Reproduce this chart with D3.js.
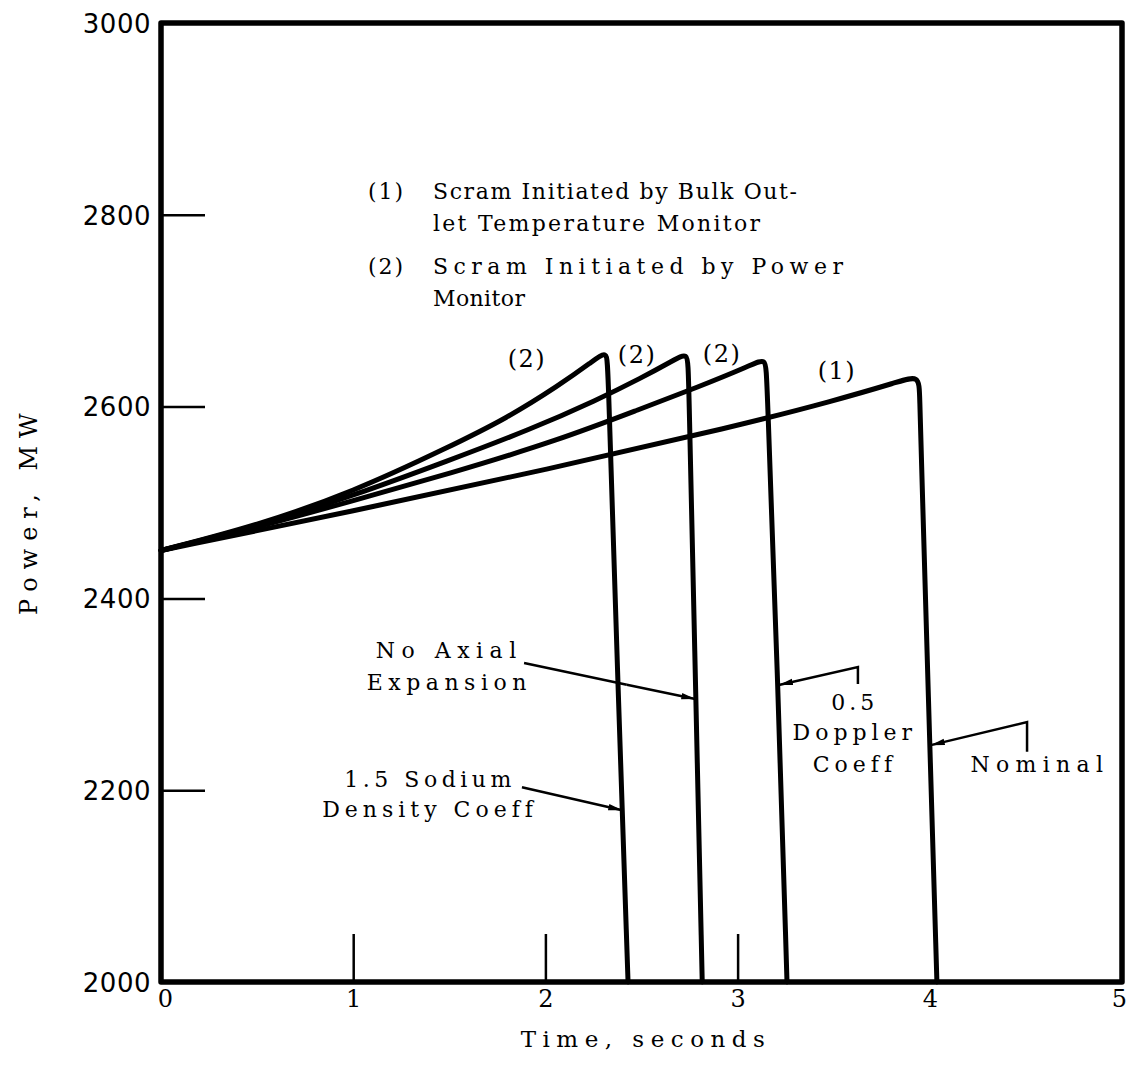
<!DOCTYPE html>
<html>
<head>
<meta charset="utf-8">
<script src="https://cdn.jsdelivr.net/npm/d3@7"></script>
<style>
  body { margin: 0; background: #fff; }
  svg { display: block; }
</style>
</head>
<body>
<svg id="chart" width="1128" height="1078"></svg>
<script>
// ---- data -------------------------------------------------------------
const timeTicks  = [0, 1, 2, 3, 4, 5];
const powerTicks = [2000, 2200, 2400, 2600, 2800, 3000];

// 1.5 x sodium density coefficient, scrammed by the power monitor
const sodiumTime  = [0, 0.5, 1.0, 1.5, 1.8, 2.07, 2.245, 2.322, 2.325, 2.374, 2.43];
const sodiumPower = [2450, 2476, 2511, 2558, 2588, 2622, 2647, 2659, 2640, 2330, 2000];

// no axial expansion, scrammed by the power monitor
const axialTime  = [0, 0.5, 1.0, 1.5, 1.92, 2.27, 2.5, 2.665, 2.742, 2.744, 2.783, 2.816];
const axialPower = [2450, 2475, 2507, 2544, 2576, 2607, 2630, 2648, 2657, 2638, 2294, 2000];

// 0.5 x Doppler coefficient, scrammed by the power monitor
const dopplerTime  = [0, 0.5, 1.0, 1.5, 2.07, 2.5, 2.79, 3.07, 3.148, 3.151, 3.21, 3.257];
const dopplerPower = [2450, 2474, 2502, 2530, 2565, 2598, 2620, 2643, 2651, 2633, 2310, 2000];

// nominal case, scrammed by the bulk outlet temperature monitor
const nominalTime  = [0, 1.0, 2.0, 3.0, 3.5, 3.84, 3.944, 3.947, 3.958, 4.0, 4.037];
const nominalPower = [2450, 2491, 2534, 2580, 2606, 2626, 2633, 2613, 2534, 2247, 2000];

const caseNames  = ["1.5 Sodium Density Coeff", "No Axial Expansion", "0.5 Doppler Coeff", "Nominal"];
const scramTags  = ["(2)", "(2)", "(2)", "(1)"];
const scramNotes = [
  ["(1)", "Scram Initiated by Bulk Out-", "let Temperature Monitor"],
  ["(2)", "Scram Initiated by Power", "Monitor"]
];

// ---- scales -----------------------------------------------------------
const svg = d3.select("#chart");
const x = d3.scaleLinear().domain([0, 5]).range([161, 1122]);
const y = d3.scaleLinear().domain([2000, 3000]).range([982, 23]);

const SERIF = "'DejaVu Serif', serif";
const INK = "#000";

const series = [
  d3.zip(sodiumTime, sodiumPower),
  d3.zip(axialTime, axialPower),
  d3.zip(dopplerTime, dopplerPower),
  d3.zip(nominalTime, nominalPower)
];

// ---- axes -------------------------------------------------------------
const yAxis = d3.axisLeft(y)
  .tickValues(powerTicks)
  .tickSize(-44)
  .tickPadding(10)
  .tickFormat(d3.format("d"));

const gy = svg.append("g")
  .attr("transform", `translate(${x(0)},0)`)
  .call(yAxis);
gy.select(".domain").remove();
gy.selectAll(".tick line").attr("stroke", INK).attr("stroke-width", 2.5);
gy.selectAll(".tick text")
  .attr("fill", INK)
  .attr("dy", "0.36em")
  .style("font-family", "'DejaVu Sans', sans-serif")
  .style("font-size", "26px")
  .style("letter-spacing", "0.5px");

const xAxis = d3.axisBottom(x)
  .tickValues(timeTicks)
  .tickSize(-48)
  .tickPadding(8)
  .tickFormat(d3.format("d"));

const gx = svg.append("g")
  .attr("transform", `translate(0,${y(2000)})`)
  .call(xAxis);
gx.select(".domain").remove();
gx.selectAll(".tick line")
  .attr("stroke", INK)
  .attr("stroke-width", 2.5)
  .attr("display", d => (d === 0 || d === 4 || d === 5) ? "none" : null);
gx.selectAll(".tick text")
  .attr("fill", INK)
  .attr("dx", d => d === 0 ? 4 : d === 5 ? -3 : 0)
  .style("font-family", SERIF)
  .style("font-size", "24px");

// plot frame
svg.append("rect")
  .attr("x", x(0)).attr("y", y(3000))
  .attr("width", x(5) - x(0)).attr("height", y(2000) - y(3000))
  .attr("fill", "none")
  .attr("stroke", INK)
  .attr("stroke-width", 5.5)
  .attr("stroke-linejoin", "round");

// axis titles
svg.append("text")
  .attr("x", 646)
  .attr("y", 1047)
  .attr("text-anchor", "middle")
  .style("font-family", SERIF)
  .style("font-size", "23px")
  .style("letter-spacing", "6.5px")
  .text("Time, seconds");

svg.append("text")
  .attr("transform", `translate(37,${y(2492)}) rotate(-90)`)
  .attr("text-anchor", "middle")
  .style("font-family", SERIF)
  .style("font-size", "24px")
  .style("letter-spacing", "8px")
  .text("Power, MW");

// ---- power traces -----------------------------------------------------
const line = d3.line()
  .x(d => x(d[0]))
  .y(d => y(d[1]))
  .curve(d3.curveBasis);

svg.append("g")
  .selectAll("path")
  .data(series)
  .join("path")
  .attr("d", line)
  .attr("fill", "none")
  .attr("stroke", INK)
  .attr("stroke-width", 5)
  .attr("stroke-linejoin", "round")
  .attr("stroke-linecap", "round");

// ---- scram-trip tags above each peak ------------------------------------
const tagAnchors = [[1.904, 2641], [2.477, 2645], [2.919, 2647], [3.517, 2629]];
svg.append("g")
  .selectAll("text")
  .data(scramTags)
  .join("text")
  .attr("x", (d, i) => x(tagAnchors[i][0]))
  .attr("y", (d, i) => y(tagAnchors[i][1]))
  .attr("text-anchor", "middle")
  .style("font-family", SERIF)
  .style("font-size", "24px")
  .style("letter-spacing", "1.5px")
  .text(d => d);

// ---- legend notes -----------------------------------------------------
const noteRows = [[2816, 2783], [2738, 2705]];
const noteWidths = [[364, 327], [410, 92]];
scramNotes.forEach((note, i) => {
  const g = svg.append("g")
    .style("font-family", SERIF)
    .style("font-size", "22px");
  g.append("text").attr("x", x(1.077)).attr("y", y(noteRows[i][0]))
    .style("letter-spacing", "2px").text(note[0]);
  g.append("text").attr("x", x(1.415)).attr("y", y(noteRows[i][0]))
    .attr("textLength", noteWidths[i][0]).attr("lengthAdjust", "spacing").text(note[1]);
  g.append("text").attr("x", x(1.415)).attr("y", y(noteRows[i][1]))
    .attr("textLength", noteWidths[i][1]).attr("lengthAdjust", "spacing").text(note[2]);
});

// ---- case labels with leader arrows --------------------------------------
svg.append("defs").append("marker")
  .attr("id", "tip")
  .attr("viewBox", "0 0 14 8")
  .attr("refX", 14).attr("refY", 4)
  .attr("markerWidth", 14).attr("markerHeight", 8)
  .attr("markerUnits", "userSpaceOnUse")
  .attr("orient", "auto")
  .append("path")
  .attr("d", "M0,0.8 L14,4 L0,7.2 Z")
  .attr("fill", INK);

// gap: fraction range of a leader left open where it crosses another trace
const caseLabels = [
  { lines: ["1.5 Sodium", "Density Coeff"], t: 1.40, p: [2203, 2172], ls: [4.5, 5],
    leader: [[1.878, 2203], [2.40, 2179]] },
  { lines: ["No Axial", "Expansion"], t: 1.50, p: [2338, 2304.5], ls: [6.5, 5.5],
    leader: [[1.889, 2332.6], [2.78, 2295]], gap: [0.49, 0.60] },
  { lines: ["0.5", "Doppler", "Coeff"], t: 3.61, p: [2283.6, 2252, 2219], ls: [4, 5, 5],
    leader: [[3.626, 2310.7], [3.626, 2328.5], [3.215, 2309.7]] },
  { lines: ["Nominal"], t: 4.573, p: [2219], ls: [6.3],
    leader: [[4.506, 2240], [4.506, 2271], [4.005, 2247]] }
];

const leader = d3.line().x(d => x(d[0])).y(d => y(d[1]));

caseLabels.forEach((c, k) => {
  const g = svg.append("g").attr("class", "case").attr("data-case", caseNames[k]);
  c.lines.forEach((txt, i) => {
    g.append("text")
      .attr("x", x(c.t))
      .attr("y", y(c.p[i]))
      .attr("text-anchor", "middle")
      .style("font-family", SERIF)
      .style("font-size", "22px")
      .style("letter-spacing", c.ls[i] + "px")
      .text(txt);
  });
  let parts = [c.leader];
  if (c.gap) {
    const along = d3.interpolate(c.leader[0], c.leader[1]);
    parts = [[c.leader[0], along(c.gap[0])], [along(c.gap[1]), c.leader[1]]];
  }
  parts.forEach((pts, j) => {
    g.append("path")
      .attr("d", leader(pts))
      .attr("fill", "none")
      .attr("stroke", INK)
      .attr("stroke-width", 2.5)
      .attr("marker-end", j === parts.length - 1 ? "url(#tip)" : null);
  });
});
</script>
</body>
</html>
